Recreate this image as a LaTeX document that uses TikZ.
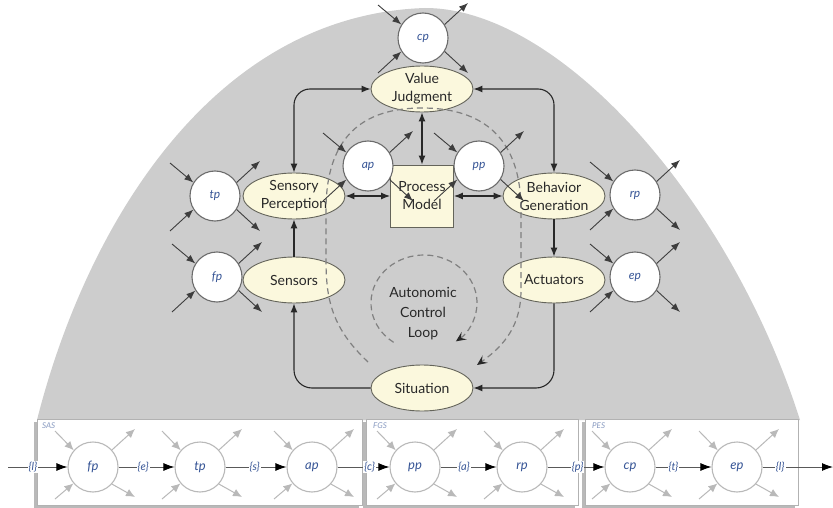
\documentclass[tikz,border=0pt]{standalone}
\usepackage{fontspec}
\setmainfont{Lato}
\usetikzlibrary{shapes.geometric,arrows.meta}
\definecolor{dome}{RGB}{205,205,205}
\definecolor{cream}{RGB}{251,248,221}
\definecolor{ink}{RGB}{40,40,40}
\definecolor{rim}{RGB}{100,100,90}
\definecolor{procblue}{RGB}{55,85,150}
\definecolor{dashgray}{RGB}{128,128,128}
\definecolor{faint}{RGB}{185,185,185}

% four flow arrows around a process circle (upper part)
\newcommand\procio[1]{%
  \draw[procarrow] ([shift={(-45,-33)}]#1.center) -- (#1.148);
  \draw[procarrow] ([shift={(-45,35)}]#1.center) -- (#1.212);
  \draw[procarrow] (#1.32) -- ([shift={(45,-35)}]#1.center);
  \draw[procarrow] (#1.-32) -- ([shift={(45,35)}]#1.center);
}
% same for the circles in the lower chain
\newcommand\chainio[1]{%
  \draw[faintarrow] ([shift={(-38,-36)}]#1.center) -- (#1.139);
  \draw[faintarrow] ([shift={(-38,32)}]#1.center) -- (#1.220);
  \draw[faintarrow] (#1.42) -- ([shift={(42,-38)}]#1.center);
  \draw[faintarrow] (#1.-42) -- ([shift={(42,30)}]#1.center);
}

\begin{document}
\begin{tikzpicture}[x=1pt,y=-1pt,
  >={Latex[length=9pt,width=7pt]},
  blob/.style={ellipse, draw=rim, line width=0.9pt, fill=cream,
    minimum width=102pt, minimum height=46pt, inner sep=0pt, align=center,
    text=ink, font=\fontsize{14}{18}\selectfont},
  modelbox/.style={rectangle, draw=rim, line width=0.9pt, fill=cream,
    minimum width=63pt, minimum height=62pt, inner sep=0pt, align=center,
    text=ink, font=\fontsize{14}{18}\selectfont},
  proc/.style={circle, draw=gray!85!black, line width=1.1pt, fill=white,
    minimum size=50pt, inner sep=0pt, text=procblue,
    font=\itshape\fontsize{12}{14}\selectfont},
  bproc/.style={circle, draw=gray!55, line width=1.1pt, fill=white,
    minimum size=50pt, inner sep=0pt, text=procblue,
    font=\itshape\fontsize{13}{15}\selectfont},
  link/.style={draw=ink, line width=1.1pt},
  procarrow/.style={draw=ink!90, line width=0.9pt, ->},
  faintarrow/.style={draw=faint, line width=1pt,
    -{Latex[length=9pt,width=8pt]}},
  loopdash/.style={draw=dashgray, line width=1.2pt, dash pattern=on 6pt off 4pt,
    -{Stealth[length=10pt,width=9pt,inset=4pt,color=ink]}},
  chain/.style={draw=gray!70!black, line width=0.9pt,
    -{Latex[length=11pt,width=8pt,color=black]}},
  chainlbl/.style={fill=white, inner sep=1pt, text=procblue,
    font=\itshape\fontsize{11}{13}\selectfont},
  boxlbl/.style={anchor=west, text=procblue!60, inner sep=0pt,
    font=\itshape\fontsize{8}{9}\selectfont},
  panel/.style={draw=gray!60, line width=0.8pt, fill=white},
  panelshade/.style={fill=gray!55}
]
\useasboundingbox (0,0) rectangle (833,508);

% bell-shaped background
\fill[dome] (37,420) .. controls (85,230) and (210,15) .. (425,8)
  .. controls (560,8) and (730,200) .. (800,420) -- cycle;

% control-loop elements
\node[blob] (vj) at (422,89) {Value\\Judgment};
\node[blob] (sp) at (294,196) {Sensory\\Perception};
\node[modelbox] (pm) at (422,196) {Process\\Model};
\node[blob] (bg) at (554,196) {Behavior\\Generation};
\node[blob] (sen) at (294,280) {Sensors};
\node[blob] (act) at (554,280) {Actuators};
\node[blob] (sit) at (422,388) {Situation};

% self-* processes
\node[proc] (cp) at (423,38) {cp};
\node[proc] (ap) at (368,166) {ap};
\node[proc] (pp) at (479,166) {pp};
\node[proc] (tp) at (215,196) {tp};
\node[proc] (fp) at (217,277) {fp};
\node[proc] (rp) at (635,195) {rp};
\node[proc] (ep) at (635,277) {ep};

% loop connectors
\draw[link,<->,rounded corners=16pt] (vj.west) -| (sp.north);
\draw[link,<->,rounded corners=16pt] (vj.east) -| (bg.north);
\draw[link,<->] (vj.south) -- (pm.north);
\draw[link,<->] (sp.east) -- (pm.west);
\draw[link,<->] (pm.east) -- (bg.west);
\draw[link,->] (sen.north) -- (sp.south);
\draw[link,->] (bg.south) -- (act.north);
\draw[link,->,rounded corners=18pt] (sit.west) -| (sen.south);
\draw[link,->,rounded corners=18pt] (act.south) |- (sit.east);

% autonomic control loop (dashed)
\draw[loopdash] (368,362) .. controls (332,328) and (326,300) .. (326,260)
  -- (326,210) .. controls (326,130) and (370,108) .. (422,108)
  .. controls (474,108) and (521,130) .. (521,210)
  -- (521,290) .. controls (521,325) and (505,345) .. (477,365);
\draw[loopdash] (424,303) ++(125:53 and 48) arc[start angle=125, end angle=413,
  x radius=53, y radius=48];
\node[align=center, text=ink, font=\fontsize{14}{20}\selectfont] (acl)
  at (423,314) {Autonomic\\Control\\Loop};

% flows around the processes
\procio{cp}
\procio{ap}
\procio{pp}
\procio{tp}
\procio{fp}
\procio{rp}
\procio{ep}

% lower panels
\fill[panelshade] (34,422) rectangle (359,508);
\draw[panel] (37,419) rectangle (362,505);
\fill[panelshade] (363,422) rectangle (575,508);
\draw[panel] (366,419) rectangle (578,505);
\fill[panelshade] (582,422) rectangle (795,508);
\draw[panel] (585,419) rectangle (798,505);
\node[boxlbl] (sas) at (42,426) {SAS};
\node[boxlbl] (fgs) at (373,426) {FGS};
\node[boxlbl] (pes) at (592,426) {PES};

% process chain
\node[bproc] (bfp) at (93,467) {fp};
\node[bproc] (btp) at (200,467) {tp};
\node[bproc] (bap) at (312,467) {ap};
\node[bproc] (bpp) at (415,467) {pp};
\node[bproc] (brp) at (522,467) {rp};
\node[bproc] (bcp) at (630,467) {cp};
\node[bproc] (bep) at (737,467) {ep};
\coordinate (cin) at (8,467);
\coordinate (cout) at (833,467);

\chainio{bfp}
\chainio{btp}
\chainio{bap}
\chainio{bpp}
\chainio{brp}
\chainio{bcp}
\chainio{bep}

\draw[chain] (cin) -- node[chainlbl,pos=0.42] {\{l\}} (bfp);
\draw[chain] (bfp) -- node[chainlbl,pos=0.44] {\{e\}} (btp);
\draw[chain] (btp) -- node[chainlbl,pos=0.48] {\{s\}} (bap);
\draw[chain] (bap) -- node[chainlbl,pos=0.62] {\{c\}} (bpp);
\draw[chain] (bpp) -- node[chainlbl,pos=0.42] {\{a\}} (brp);
\draw[chain] (brp) -- node[chainlbl,pos=0.53] {\{p\}} (bcp);
\draw[chain] (bcp) -- node[chainlbl,pos=0.32] {\{t\}} (bep);
\draw[chain] (bep) -- node[chainlbl,pos=0.25] {\{l\}} (cout);
\end{tikzpicture}
\end{document}
